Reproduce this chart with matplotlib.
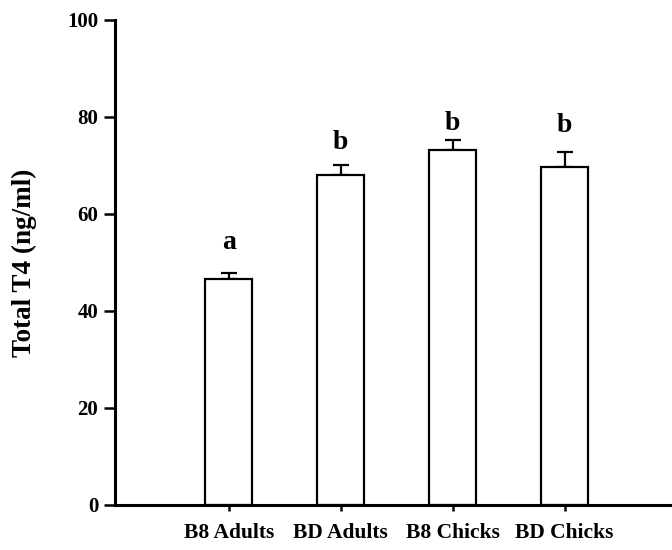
import matplotlib
matplotlib.use("Agg")
import matplotlib.pyplot as plt

categories = ["B8 Adults", "BD Adults", "B8 Chicks", "BD Chicks"]
values = [46.6, 68.0, 73.1, 69.6]
errors = [1.2, 2.0, 2.1, 3.1]
letters = ["a", "b", "b", "b"]
letter_heights = [54.0, 74.8, 78.6, 78.2]
yticks = [0, 20, 40, 60, 80, 100]

plt.rcParams["font.family"] = ["Liberation Serif", "DejaVu Serif"]
plt.rcParams["font.weight"] = "bold"

fig = plt.figure(figsize=(6.72, 5.5), dpi=100)
ax = fig.add_axes([0.171, 0.082, 0.829, 0.882])

x = list(range(len(categories)))
ax.bar(x, values, width=0.42, color="white", edgecolor="black", linewidth=1.6, zorder=2)
ax.errorbar(x, values, yerr=[[0] * len(errors), errors], fmt="none", ecolor="black",
            elinewidth=1.6, capsize=6, capthick=1.6, zorder=1)
for xi, h, t in zip(x, letter_heights, letters):
    ax.text(xi, h, t, ha="center", va="center", fontsize=20, fontweight="bold")

ax.set_xlim(-1.018, 3.96)
ax.set_ylim(0, 100)
ax.set_yticks(yticks)
ax.set_xticks(x)
ax.set_xticklabels(categories, fontsize=15.5, fontweight="bold")
ax.tick_params(axis="y", labelsize=15, length=8, width=1.8, direction="out", pad=4)
ax.tick_params(axis="x", length=4, width=1.8, direction="out", pad=9)
for lab in ax.get_yticklabels():
    lab.set_fontweight("bold")
ax.spines["top"].set_visible(False)
ax.spines["right"].set_visible(False)
ax.spines["left"].set_linewidth(2.2)
ax.spines["bottom"].set_linewidth(2.2)
ax.set_ylabel("Total T4 (ng/ml)", fontsize=19.5, fontweight="bold", labelpad=22)

fig.savefig("out.png", dpi=100)
